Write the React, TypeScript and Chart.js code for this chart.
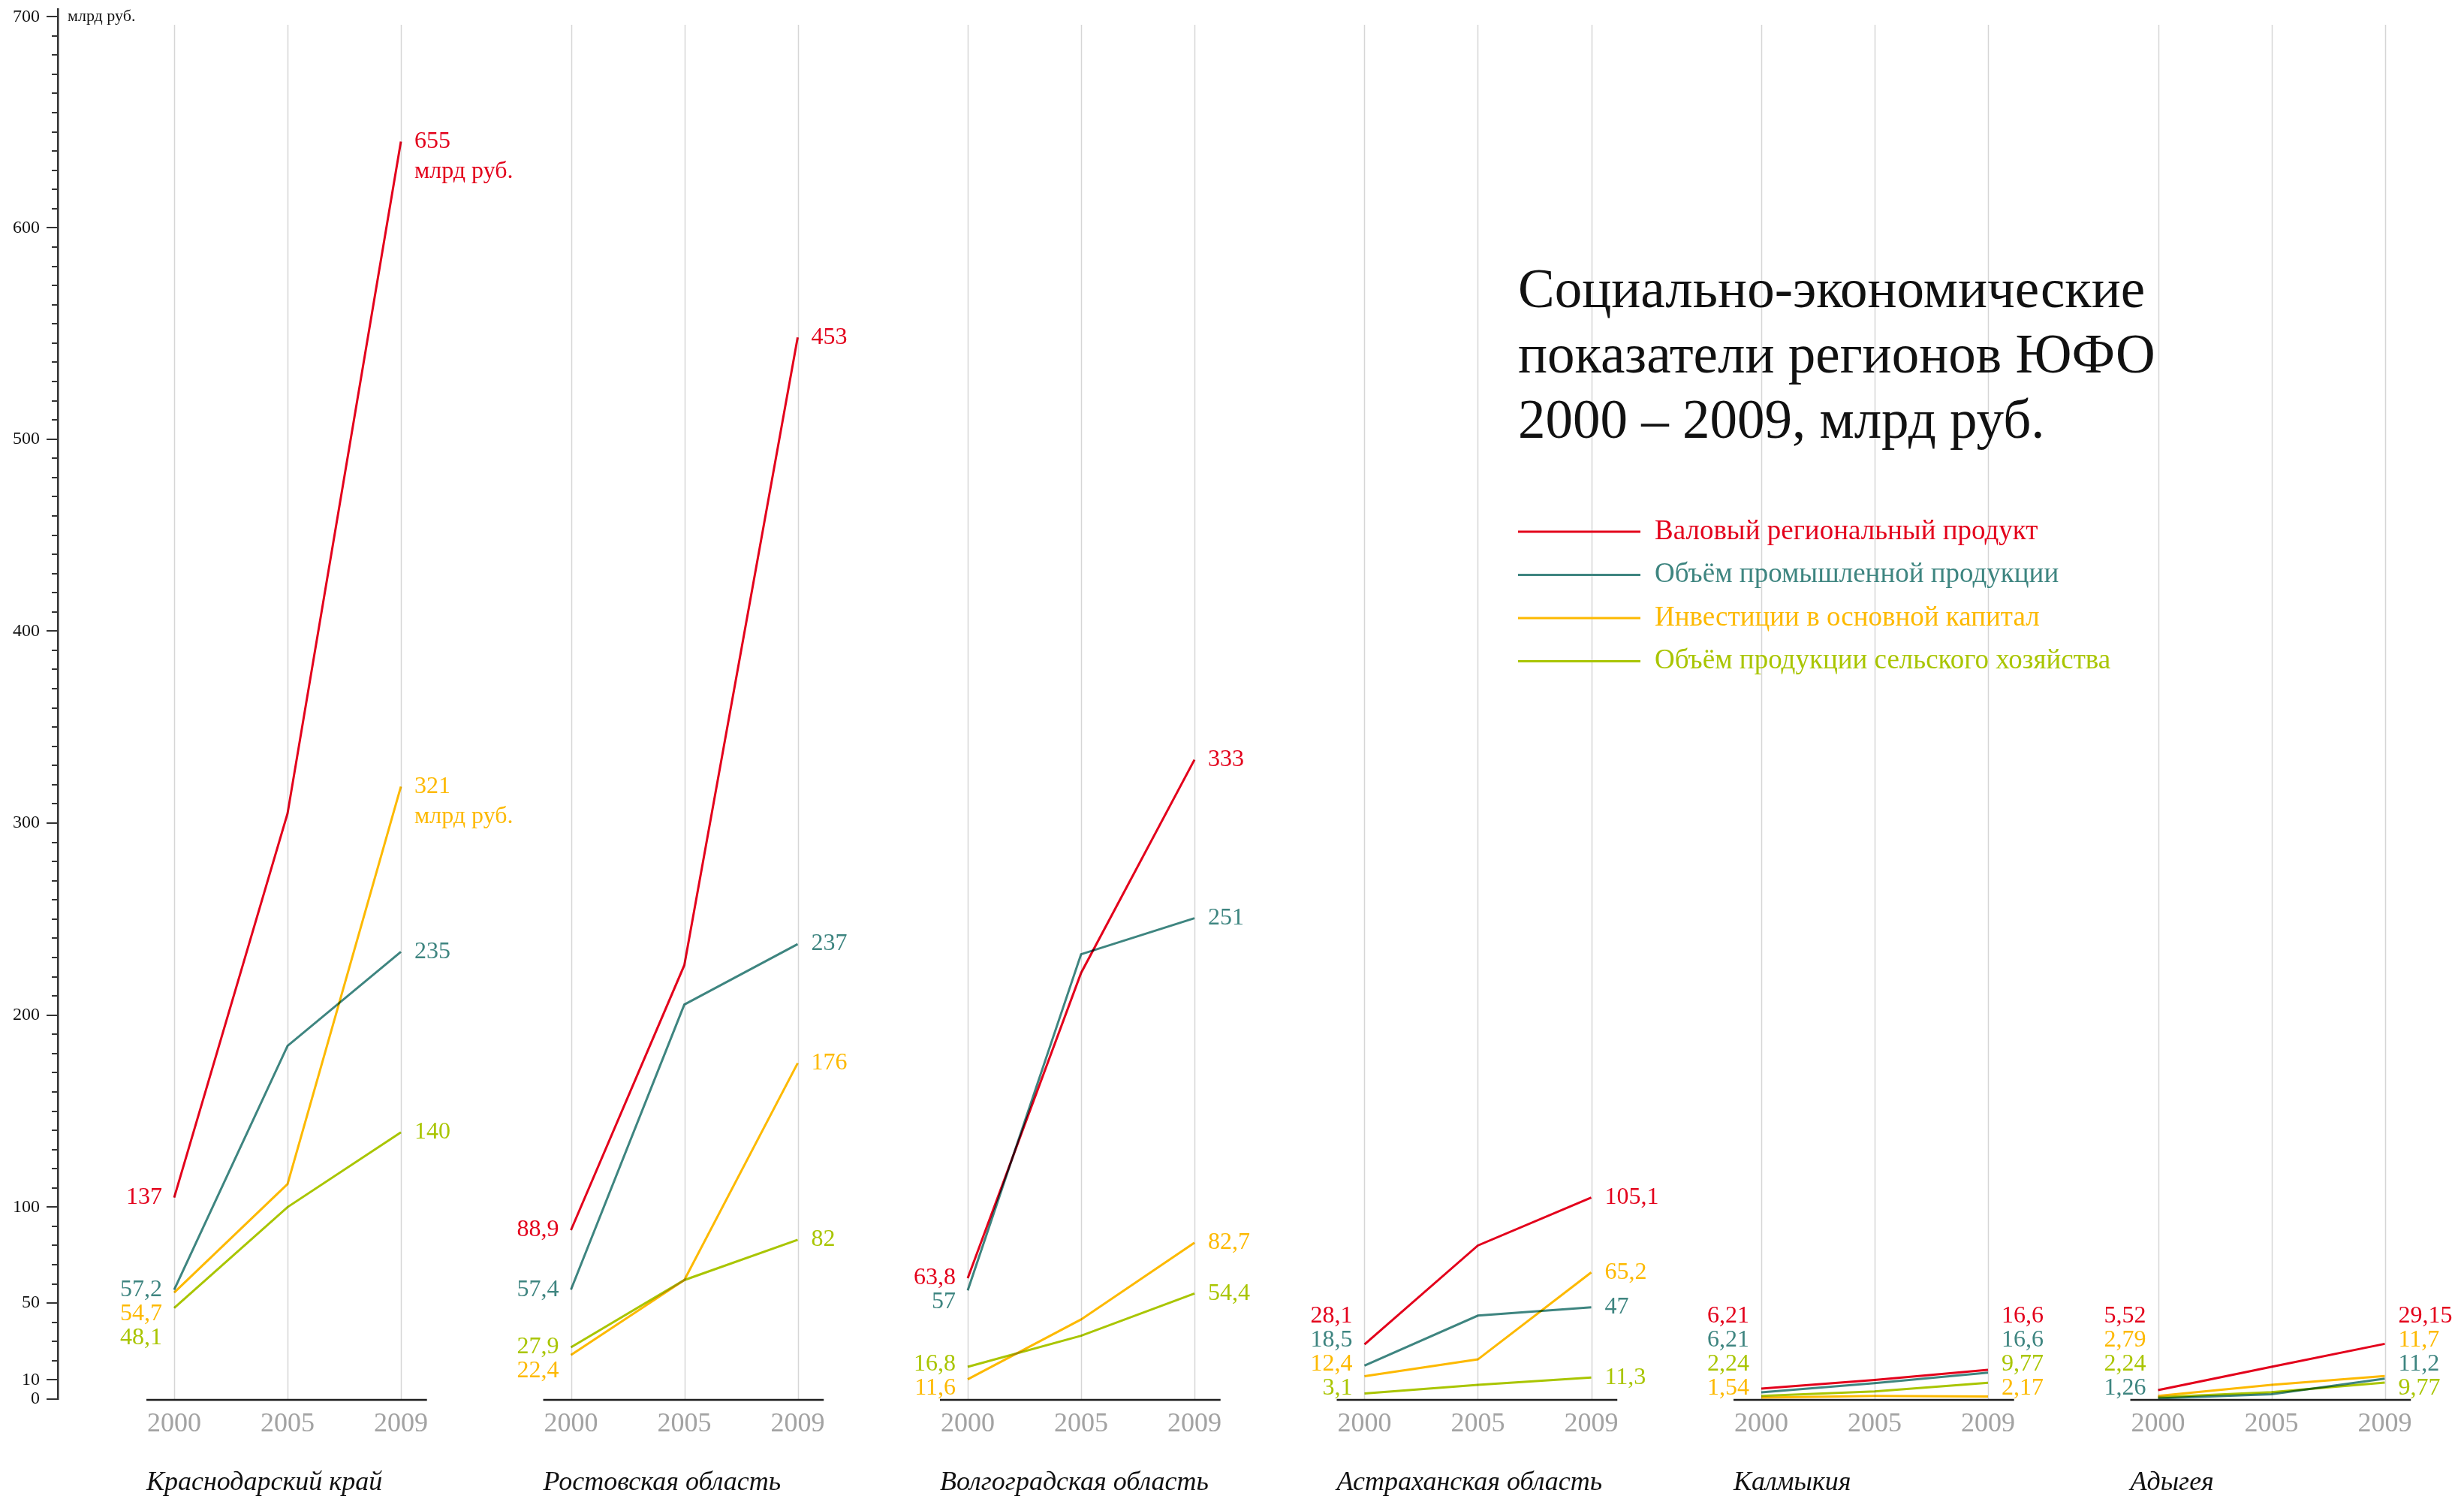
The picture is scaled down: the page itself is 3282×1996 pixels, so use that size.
import React, { useEffect, useRef } from 'react';
import { Chart, registerables } from 'chart.js';

Chart.register(...registerables);

// ---------- data ----------
const years = ['2000', '2005', '2009'];
const regions = [
  'Краснодарский край',
  'Ростовская область',
  'Волгоградская область',
  'Астраханская область',
  'Калмыкия',
  'Адыгея',
];
const seriesNames = [
  'Валовый региональный продукт',
  'Объём промышленной продукции',
  'Инвестиции в основной капитал',
  'Объём продукции сельского хозяйства',
];
const seriesColors = ['#e3001b', '#3e8580', '#fdb900', '#a9c500'];

// plotted values per region: [2000, 2005, 2009], млрд руб. (as drawn)
const grp = [[105, 305, 655], [88, 226, 553], [63, 222, 333], [28.5, 80, 105], [5.5, 10, 15.3], [4.7, 16.8, 28.8]];
const industry = [[57, 184, 233], [57, 205.5, 237], [56.6, 231.7, 250.5], [17.5, 43.5, 47.8], [3.5, 8.3, 13.8], [0.4, 2.5, 10.7]];
const investment = [[55.5, 112, 319], [23, 62, 175], [10.3, 41.5, 81.5], [11.9, 20.7, 66], [0.8, 1.7, 1.4], [1.7, 7.4, 12]];
const agriculture = [[47.5, 100, 139], [27, 62, 83], [16.8, 33, 55], [2.9, 7.4, 11.2], [1.7, 4, 8.5], [1, 3.6, 8.6]];

// value labels per region: [2000, 2009]
const grpLabels = [['137', '655\nмлрд руб.'], ['88,9', '453'], ['63,8', '333'], ['28,1', '105,1'], ['6,21', '16,6'], ['5,52', '29,15']];
const industryLabels = [['57,2', '235'], ['57,4', '237'], ['57', '251'], ['18,5', '47'], ['6,21', '16,6'], ['1,26', '11,2']];
const investmentLabels = [['54,7', '321\nмлрд руб.'], ['22,4', '176'], ['11,6', '82,7'], ['12,4', '65,2'], ['1,54', '2,17'], ['2,79', '11,7']];
const agricultureLabels = [['48,1', '140'], ['27,9', '82'], ['16,8', '54,4'], ['3,1', '11,3'], ['2,24', '9,77'], ['2,24', '9,77']];

// y-axis tick labels as placed on the axis
const yTickLabels: [number, string][] = [
  [0, '0'], [10, '10'], [50, '50'], [100, '100'], [200, '200'], [300, '300'],
  [400, '400'], [500, '500'], [610, '600'], [720, '700'],
];
const yUnit = 'млрд руб.';
const titleLines = ['Социально-экономические', 'показатели регионов ЮФО', '2000 – 2009, млрд руб.'];

const allValues = [grp, industry, investment, agriculture];
const allLabels = [grpLabels, industryLabels, investmentLabels, agricultureLabels];

// ---------- layout ----------
const W = 3282;
const H = 1996;
const PANEL_STEP = 3.5;
const X0 = 232;
const UNIT = 151;
const AXIS_W = 77;
const X_MIN = (AXIS_W - X0) / UNIT;
const X_MAX = (W - X0) / UNIT;
const SERIF = "'Liberation Serif', 'DejaVu Serif', serif";

function buildData(values: number[][]) {
  const pts: { x: number; y: number | null }[] = [];
  values.forEach((row, r) => {
    row.forEach((v, j) => pts.push({ x: r * PANEL_STEP + j, y: v }));
    pts.push({ x: r * PANEL_STEP + 2.5, y: null });
  });
  return pts;
}

const decorPlugin = {
  id: 'decor',
  beforeDatasetsDraw(chart: any) {
    const { ctx } = chart;
    const x = chart.scales.x;
    const y = chart.scales.y;
    const y0 = y.getPixelForValue(0);
    ctx.save();
    ctx.strokeStyle = '#d6d6d6';
    ctx.lineWidth = 1.5;
    regions.forEach((_, r) => {
      years.forEach((__, j) => {
        const px = Math.round(x.getPixelForValue(r * PANEL_STEP + j)) + 0.5;
        ctx.beginPath();
        ctx.moveTo(px, 33);
        ctx.lineTo(px, y0);
        ctx.stroke();
      });
    });
    ctx.strokeStyle = '#1e1e1e';
    ctx.lineWidth = 2.5;
    regions.forEach((_, r) => {
      ctx.beginPath();
      ctx.moveTo(x.getPixelForValue(r * PANEL_STEP - 0.245), y0 + 1);
      ctx.lineTo(x.getPixelForValue(r * PANEL_STEP + 2.23), y0 + 1);
      ctx.stroke();
    });
    ctx.restore();
    ctx.save();
    ctx.globalCompositeOperation = 'multiply';
  },
  afterDatasetsDraw(chart: any) {
    const { ctx } = chart;
    ctx.restore();
    const x = chart.scales.x;
    const y = chart.scales.y;
    const y0 = y.getPixelForValue(0);

    // value labels
    ctx.save();
    ctx.font = `32px ${SERIF}`;
    ctx.textBaseline = 'middle';
    const GAP = 32;
    const maxY = y0 - 14;
    regions.forEach((_, r) => {
      [0, 1].forEach((side) => {
        const j = side === 0 ? 0 : 2;
        const items = allValues.map((vals, s) => {
          const text = allLabels[s][r][side];
          const first = text.split('\n')[0];
          return {
            s,
            text,
            num: parseFloat(first.replace(',', '.')),
            py: y.getPixelForValue(vals[r][j]),
          };
        });
        items.sort((a, b) => b.num - a.num);
        const pos = items.map((it) => it.py);
        for (let i = 1; i < pos.length; i++) pos[i] = Math.max(pos[i], pos[i - 1] + GAP);
        pos[pos.length - 1] = Math.min(pos[pos.length - 1], maxY);
        for (let i = pos.length - 2; i >= 0; i--) pos[i] = Math.min(pos[i], pos[i + 1] - GAP);
        const gx = x.getPixelForValue(r * PANEL_STEP + j);
        items.forEach((it, i) => {
          ctx.fillStyle = seriesColors[it.s];
          ctx.textAlign = side === 0 ? 'right' : 'left';
          const tx = side === 0 ? gx - 16 : gx + 18;
          it.text.split('\n').forEach((line, li) => {
            ctx.fillText(line, tx, pos[i] + li * 40);
          });
        });
      });
    });
    ctx.restore();

    // year labels and region names
    ctx.save();
    ctx.textBaseline = 'middle';
    regions.forEach((name, r) => {
      ctx.font = `36px ${SERIF}`;
      ctx.fillStyle = '#a3a3a3';
      ctx.textAlign = 'center';
      years.forEach((yr, j) => {
        ctx.fillText(yr, x.getPixelForValue(r * PANEL_STEP + j), y0 + 34);
      });
      ctx.font = `italic 36px ${SERIF}`;
      ctx.fillStyle = '#111';
      ctx.textAlign = 'left';
      ctx.fillText(name, x.getPixelForValue(r * PANEL_STEP - 0.245), y0 + 112);
    });
    ctx.restore();
  },
  afterDraw(chart: any) {
    const { ctx } = chart;
    const y = chart.scales.y;
    const ax = chart.chartArea.left;
    ctx.save();
    // longer ticks for labelled values
    ctx.strokeStyle = '#333';
    ctx.lineWidth = 2;
    yTickLabels.forEach(([v]) => {
      const py = Math.round(y.getPixelForValue(v));
      ctx.beginPath();
      ctx.moveTo(ax - 15, py);
      ctx.lineTo(ax, py);
      ctx.stroke();
    });
    ctx.fillStyle = '#111';
    ctx.font = `22px ${SERIF}`;
    ctx.textBaseline = 'middle';
    ctx.textAlign = 'left';
    ctx.fillText(yUnit, ax + 13, y.getPixelForValue(720));

    // title
    const tx = 2022;
    ctx.font = `73px ${SERIF}`;
    ctx.fillStyle = '#111';
    titleLines.forEach((line, i) => ctx.fillText(line, tx, 390 + i * 87));

    // legend
    ctx.font = `37px ${SERIF}`;
    seriesNames.forEach((name, i) => {
      const ly = 708 + i * 57.5;
      ctx.strokeStyle = seriesColors[i];
      ctx.lineWidth = 3;
      ctx.beginPath();
      ctx.moveTo(tx, ly);
      ctx.lineTo(tx + 163, ly);
      ctx.stroke();
      ctx.fillStyle = seriesColors[i];
      ctx.fillText(name, tx + 182, ly);
    });
    ctx.restore();
  },
};

export default function App() {
  const ref = useRef<HTMLCanvasElement | null>(null);
  useEffect(() => {
    document.body.style.margin = '0';
    if (!ref.current) return;
    const tickLabelMap = new Map<number, string>(yTickLabels);
    const chart = new Chart(ref.current, {
      type: 'line',
      data: {
        datasets: allValues.map((vals, s) => ({
          label: seriesNames[s],
          data: buildData(vals),
          borderColor: seriesColors[s],
          backgroundColor: seriesColors[s],
          borderWidth: 3,
          pointRadius: 0,
          tension: 0,
          spanGaps: false,
          fill: false,
        })),
      },
      options: {
        responsive: false,
        animation: false,
        devicePixelRatio: 1,
        parsing: false as any,
        layout: { padding: { top: 12, bottom: 133, left: 0, right: 0 } },
        plugins: { legend: { display: false }, tooltip: { enabled: false } },
        scales: {
          x: { type: 'linear', display: false, min: X_MIN, max: X_MAX },
          y: {
            type: 'linear',
            position: 'left',
            min: 0,
            max: 724,
            afterFit: (s: any) => {
              s.width = AXIS_W;
              s.paddingTop = 0;
              s.paddingBottom = 0;
            },
            afterBuildTicks: (s: any) => {
              const t = [];
              for (let v = 0; v <= 720; v += 10) t.push({ value: v });
              s.ticks = t;
            },
            ticks: {
              autoSkip: false,
              padding: 16,
              color: '#111',
              font: { family: SERIF, size: 24 },
              callback: (v: any) => tickLabelMap.get(Number(v)) ?? '',
            },
            grid: { drawOnChartArea: false, drawTicks: true, tickLength: 8, color: '#333', lineWidth: 2 },
            border: { display: true, color: '#333', width: 2.5 },
          },
        },
      },
      plugins: [decorPlugin],
    } as any);
    return () => chart.destroy();
  }, []);
  return (
    <div style={{ position: 'absolute', left: 0, top: 0, width: W, height: H, background: '#fff' }}>
      <canvas ref={ref} width={W} height={H} style={{ display: 'block', width: W, height: H }} />
    </div>
  );
}
